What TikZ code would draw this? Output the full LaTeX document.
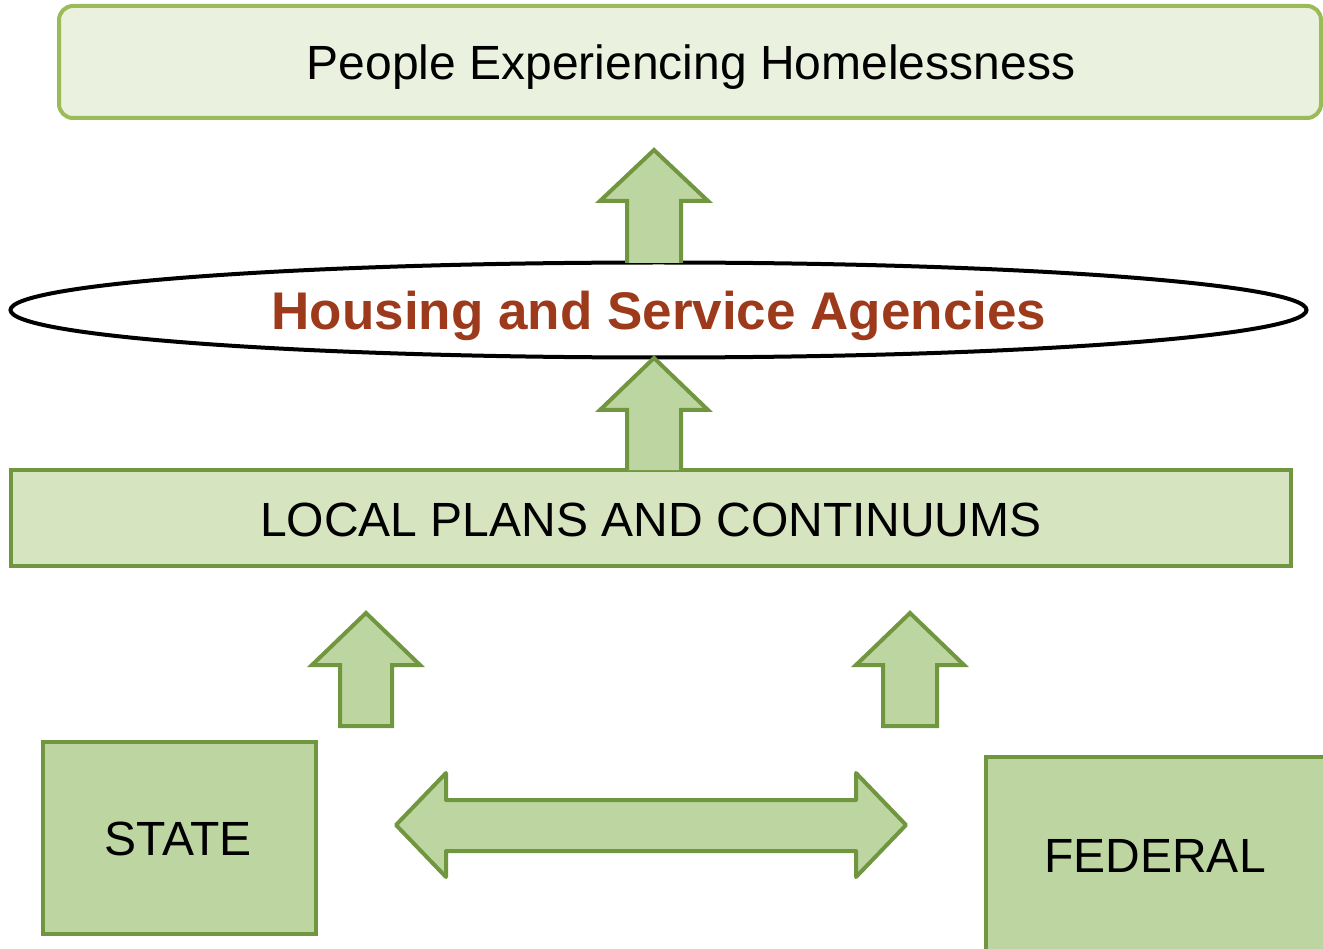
\documentclass[tikz,border=0pt]{standalone}
\usepackage{fontspec}
\setmainfont{Liberation Sans}
\usetikzlibrary{shapes.geometric}
\definecolor{dkgreen}{HTML}{70963F}
\definecolor{ltgreen}{HTML}{9BBB59}
\definecolor{topfill}{HTML}{EAF1DE}
\definecolor{localfill}{HTML}{D6E4C0}
\definecolor{boxfill}{HTML}{BDD5A0}
\definecolor{agencyred}{HTML}{9C3A1B}
\begin{document}
\begin{tikzpicture}[x=1pt,y=-1pt,
  blockarrow/.style={draw=dkgreen,fill=boxfill,line width=4pt,line join=miter},
  lvlbox/.style={draw=dkgreen,line width=4pt,inner sep=0pt},
  txt/.style={font=\fontsize{48}{54}\selectfont}]
\useasboundingbox (0,0) rectangle (1323,949);
% top box
\node[draw=ltgreen,fill=topfill,line width=4pt,rounded corners=14pt,minimum width=1262pt,minimum height=112pt,inner sep=0pt] (people) at (690,62) {};
\node[txt] (peopletxt) at (691,67) {People Experiencing Homelessness};
% ellipse
\node[ellipse,draw=black,line width=4pt,minimum width=1296pt,minimum height=95pt,inner sep=0pt] (agencies) at (658.5,310) {};
\node[font=\fontsize{53}{59}\bfseries\selectfont,text=agencyred] (agtxt) at (659,316) {Housing and Service Agencies};
% local box
\node[lvlbox,fill=localfill,minimum width=1280pt,minimum height=96pt] (local) at (650.5,518) {};
\node[txt] (localtxt) at (651,520) {LOCAL PLANS AND CONTINUUMS};
% state and federal
\node[lvlbox,fill=boxfill,minimum width=273pt,minimum height=192pt] (state) at (179,837.5) {};
\node[txt] (statetxt) at (178,839) {STATE};
\node[lvlbox,fill=boxfill,minimum width=350pt,minimum height=200pt] (federal) at (1161,857) {};
\node[txt] (fedtxt) at (1155,856) {FEDERAL};
% up arrows
\draw[blockarrow] (627,263) -- (627,201) -- (600,201) -- (654,150) -- (708,201) -- (681,201) -- (681,263);
\draw[blockarrow] (627,470) -- (627,410) -- (600,410) -- (654,358) -- (708,410) -- (681,410) -- (681,470);
\draw[blockarrow] (340,726) -- (340,665) -- (312,665) -- (366,613) -- (420,665) -- (392,665) -- (392,726) -- cycle;
\draw[blockarrow] (883,726) -- (883,665) -- (856,665) -- (910,613) -- (964,665) -- (937,665) -- (937,726) -- cycle;
% double arrow
\draw[blockarrow,line join=round] (396,825) -- (446,773) -- (446,800) -- (856,800) -- (856,773) -- (906,825) -- (856,877) -- (856,851) -- (446,851) -- (446,877) -- cycle;
\end{tikzpicture}
\end{document}
